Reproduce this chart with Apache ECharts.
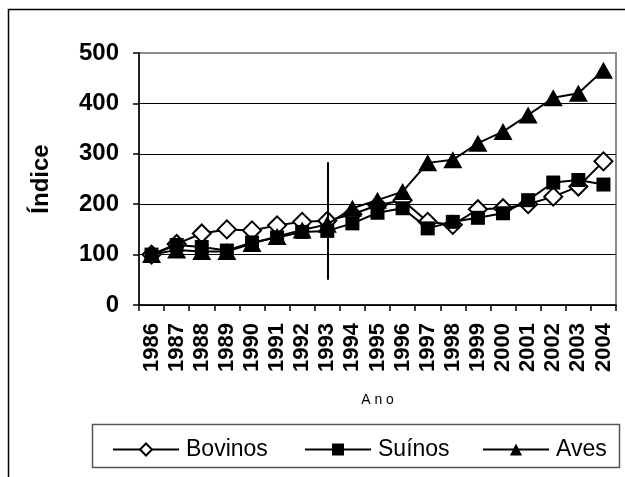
<!DOCTYPE html>
<html>
<head>
<meta charset="utf-8">
<script src="https://cdn.jsdelivr.net/npm/echarts@6/dist/echarts.min.js"></script>
<style>
  html, body { margin: 0; padding: 0; background: #fff; }
  #chart { width: 625px; height: 477px; }
</style>
</head>
<body>
<div id="chart"></div>
<script>
// Índices de produção por ano (base 1986 = 100)
const anos = ['1986','1987','1988','1989','1990','1991','1992','1993','1994','1995',
              '1996','1997','1998','1999','2000','2001','2002','2003','2004'];
const bovinos = [100, 121, 142, 150, 148, 158, 165, 167, 180, 198, 208, 165, 159, 190, 192, 200, 215, 235, 285];
const suinos  = [100, 119, 115, 108, 124, 134, 145, 147, 162, 183, 192, 152, 165, 173, 182, 208, 243, 248, 239];
const aves    = [100, 109, 106, 106, 122, 136, 149, 160, 192, 208, 225, 282, 288, 321, 344, 377, 411, 420, 466];
const yTicks  = [0, 100, 200, 300, 400, 500];
// Marco vertical em 1993
const marcoAno = '1993';
const marcoIntervalo = [50, 283];

const FONT = '"Liberation Sans", Arial, sans-serif';

const chart = echarts.init(document.getElementById('chart'), null, { renderer: 'canvas' });

function legendBlock(name, left) {
  return {
    data: [name],
    left: left,
    top: 433,
    orient: 'horizontal',
    itemWidth: 66,
    itemHeight: 15,
    selectedMode: false,
    textStyle: { fontFamily: FONT, fontSize: 23, color: '#000', padding: [0, 0, 0, 2] }
  };
}

const lineBase = {
  type: 'line',
  smooth: false,
  lineStyle: { color: '#000', width: 2 },
  emphasis: { disabled: true },
  animation: false
};

chart.setOption({
  animation: false,
  backgroundColor: '#fff',
  grid: {
    left: 139, right: 9, top: 53, bottom: 172,
    show: true, borderColor: '#8c8c8c', borderWidth: 2, backgroundColor: 'transparent'
  },
  legend: [
    legendBlock('Bovinos', 107),
    legendBlock('Suínos', 299),
    legendBlock('Aves', 477)
  ],
  xAxis: {
    type: 'category',
    data: anos,
    boundaryGap: true,
    name: 'A n o',
    nameLocation: 'middle',
    nameGap: 88,
    nameTextStyle: { fontFamily: FONT, fontSize: 14, color: '#000' },
    axisLine: { lineStyle: { color: '#000', width: 1.5 } },
    axisTick: { show: true, length: 6, alignWithLabel: false, lineStyle: { color: '#000', width: 1.5 } },
    axisLabel: {
      rotate: 90, interval: 0, margin: 18,
      fontFamily: FONT, fontSize: 22, fontWeight: 'bold', color: '#000'
    },
    splitLine: { show: false }
  },
  yAxis: {
    type: 'value',
    min: yTicks[0], max: yTicks[yTicks.length - 1], interval: 100,
    name: 'Índice',
    nameLocation: 'middle',
    nameGap: 86,
    nameRotate: 90,
    nameTextStyle: { fontFamily: FONT, fontSize: 24, fontWeight: 'bold', color: '#000' },
    axisLine: { show: true, lineStyle: { color: '#000', width: 1.5 } },
    axisTick: { show: true, length: 6, lineStyle: { color: '#000', width: 1.5 } },
    axisLabel: { margin: 20, fontFamily: FONT, fontSize: 24, fontWeight: 'bold', color: '#000' },
    splitLine: { show: true, showMaxLine: false, lineStyle: { color: '#000', width: 1.2 } }
  },
  series: [
    Object.assign({}, lineBase, {
      name: 'Bovinos',
      data: bovinos,
      symbol: 'diamond',
      symbolSize: 18,
      itemStyle: { color: '#fff', borderColor: '#000', borderWidth: 2 },
      z: 2,
      markLine: {
        silent: true,
        symbol: ['none', 'none'],
        label: { show: false },
        lineStyle: { color: '#000', width: 2, type: 'solid' },
        data: [[{ coord: [marcoAno, marcoIntervalo[0]] }, { coord: [marcoAno, marcoIntervalo[1]] }]]
      }
    }),
    Object.assign({}, lineBase, {
      name: 'Suínos',
      data: suinos,
      symbol: 'rect',
      symbolSize: 14,
      itemStyle: { color: '#000', borderColor: '#000', borderWidth: 0 },
      z: 3
    }),
    Object.assign({}, lineBase, {
      name: 'Aves',
      data: aves,
      symbol: 'triangle',
      symbolSize: [19, 17],
      itemStyle: { color: '#000', borderColor: '#000', borderWidth: 0 },
      z: 4
    })
  ],
  graphic: [
    // moldura externa
    {
      type: 'rect', silent: true, z: -1,
      shape: { x: 8.5, y: 9.5, width: 700, height: 600 },
      style: { fill: 'none', stroke: '#000', lineWidth: 1.5 }
    },
    // caixa da legenda
    {
      type: 'rect', silent: true, z: 0,
      shape: { x: 92.5, y: 424.5, width: 527, height: 43 },
      style: { fill: 'none', stroke: '#555', lineWidth: 1.5 }
    }
  ]
});
</script>
</body>
</html>
